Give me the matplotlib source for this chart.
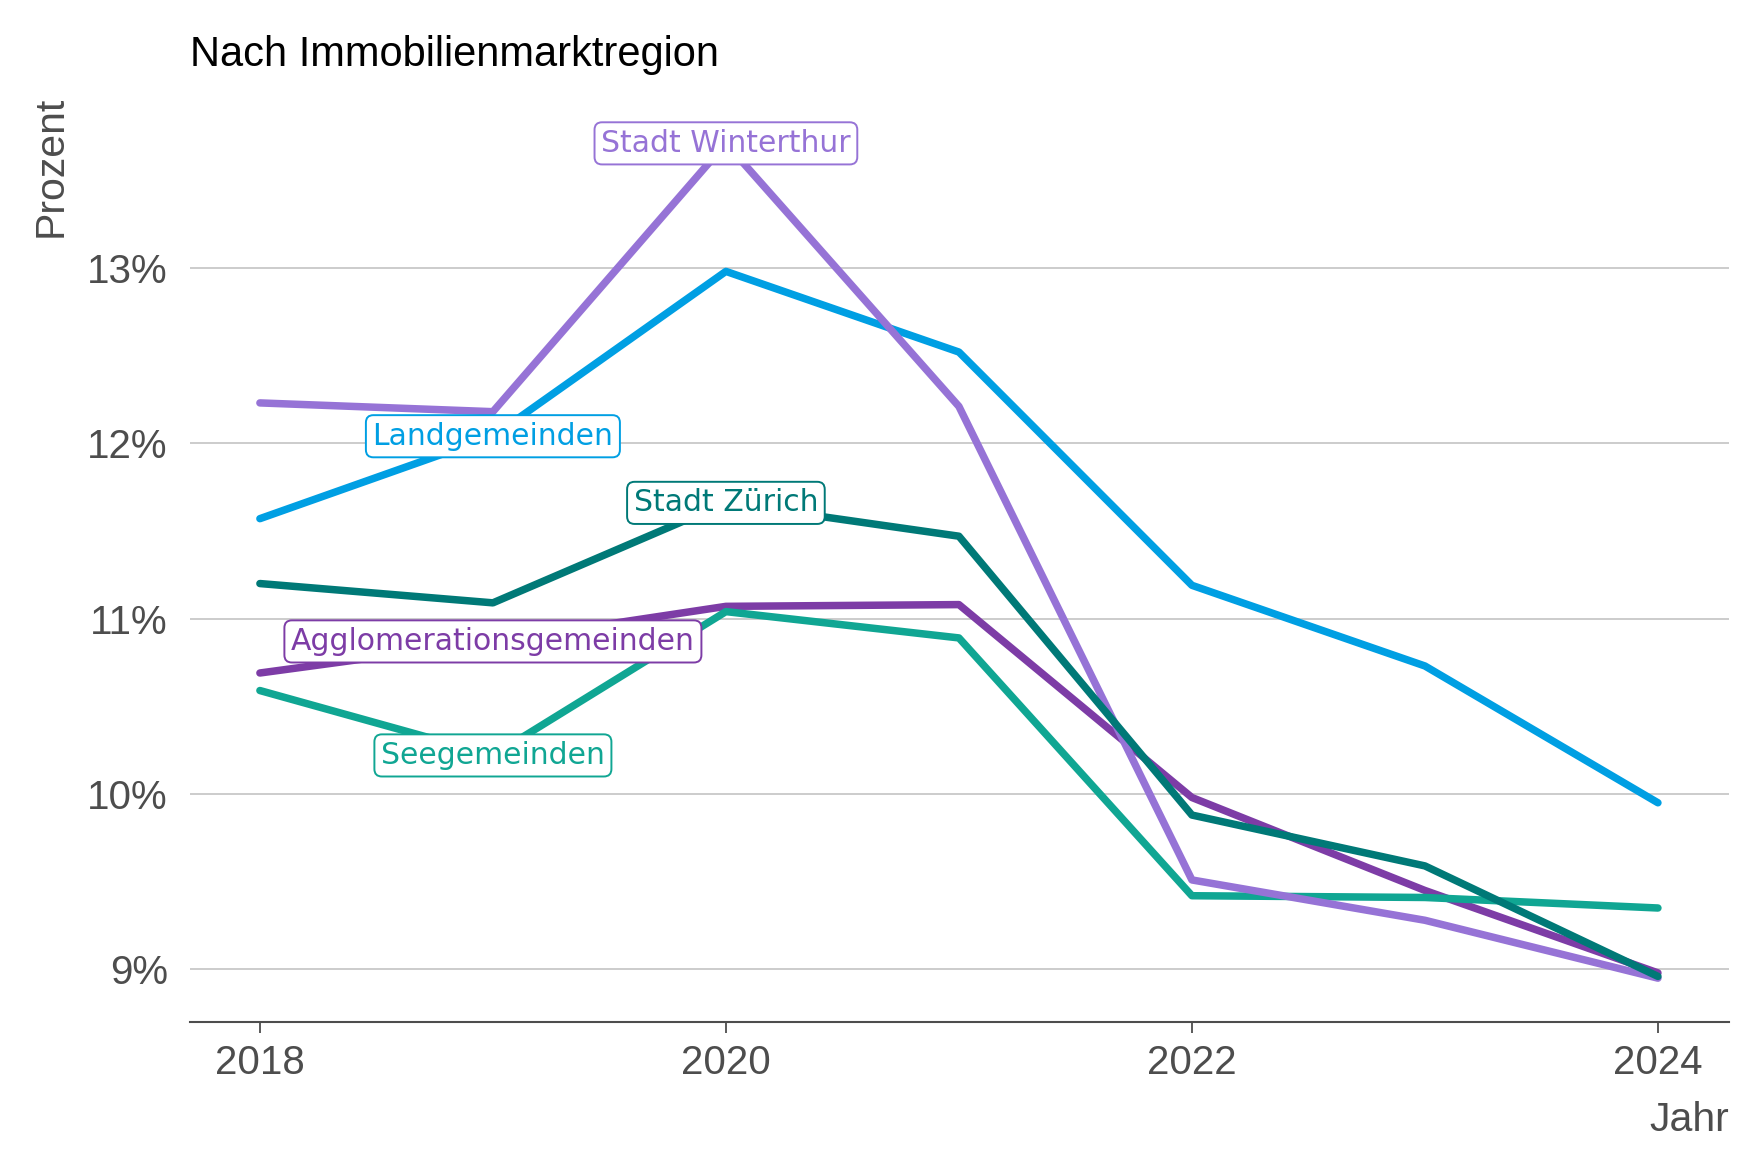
import matplotlib.pyplot as plt

jahre = [2018, 2019, 2020, 2021, 2022, 2023, 2024]

# Anteil in Prozent je Immobilienmarktregion
agglo = [10.69, 10.87, 11.07, 11.08, 9.98, 9.45, 8.98]
land = [11.57, 12.04, 12.98, 12.52, 11.19, 10.73, 9.95]
see = [10.59, 10.22, 11.04, 10.89, 9.42, 9.41, 9.35]
winterthur = [12.23, 12.18, 13.71, 12.21, 9.51, 9.28, 8.95]
zuerich = [11.20, 11.09, 11.66, 11.47, 9.88, 9.59, 8.96]

namen = ['Agglomerationsgemeinden', 'Landgemeinden', 'Seegemeinden',
         'Stadt Winterthur', 'Stadt Zürich']
reihen = [agglo, land, see, winterthur, zuerich]
farben = ['#7d3ca6', '#009fe3', '#10a693', '#9673d6', '#007977']
label_jahr = [2019, 2019, 2019, 2020, 2020]

y_ticks = [9, 10, 11, 12, 13]
y_labels = ['9%', '10%', '11%', '12%', '13%']
x_ticks = [2018, 2020, 2022, 2024]
x_labels = ['2018', '2020', '2022', '2024']

plt.rcParams['font.family'] = ['Liberation Sans', 'DejaVu Sans']
grau = '#4d4d4d'

W, H = 1765, 1166
fig = plt.figure(figsize=(W / 100, H / 100), dpi=100)
ax = fig.add_axes([190 / W, 1 - 1022 / H, (1729 - 190) / W, (1022 - 96) / H])

for name, werte, farbe in zip(namen, reihen, farben):
    ax.plot(jahre, werte, color=farbe, lw=5.4, solid_capstyle='round',
            solid_joinstyle='round', zorder=3)

for name, werte, farbe, lj in zip(namen, reihen, farben, label_jahr):
    i = jahre.index(lj)
    ax.text(lj, werte[i], name, color=farbe, fontsize=21.5, ha='center', va='center',
            family='DejaVu Sans', zorder=5,
            bbox=dict(boxstyle='round,pad=0.22,rounding_size=0.25', fc='white',
                      ec=farbe, lw=1.4))

ax.set_xlim(2017.70, 2024.305)
ax.set_ylim(8.70, 13.98)
ax.set_yticks(y_ticks)
ax.set_yticklabels(y_labels)
ax.set_xticks(x_ticks)
ax.set_xticklabels(x_labels)
ax.grid(axis='y', color='#bebebe', lw=1.1)
ax.set_axisbelow(True)

for s in ['top', 'right', 'left']:
    ax.spines[s].set_visible(False)
ax.spines['bottom'].set_color(grau)
ax.spines['bottom'].set_linewidth(1.5)
ax.tick_params(axis='y', length=0, pad=16, labelsize=29, labelcolor=grau)
ax.tick_params(axis='x', length=8, width=1.3, color=grau, pad=8,
               labelsize=29, labelcolor=grau)

fig.text(190 / W, 1 - 66 / H, 'Nach Immobilienmarktregion', fontsize=30,
         color='black', ha='left', va='baseline')
fig.text(51 / W, 1 - 96 / H, 'Prozent', fontsize=29.5, color=grau,
         rotation=90, ha='center', va='top')
fig.text(1729 / W, 1 - 1131 / H, 'Jahr', fontsize=29.5, color=grau,
         ha='right', va='baseline')

fig.savefig('out.png', dpi=100)
